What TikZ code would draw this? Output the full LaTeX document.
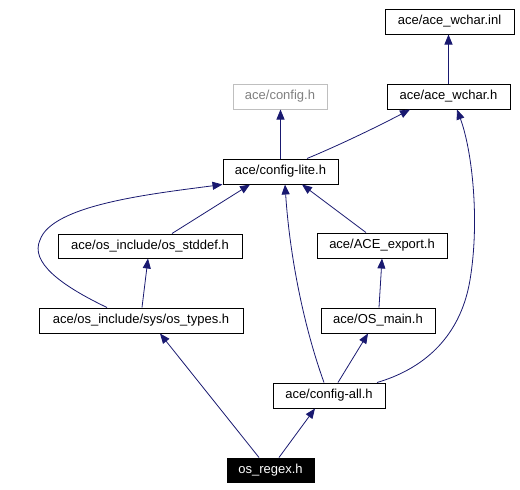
\documentclass[tikz,border=0pt]{standalone}
\usepackage{fontspec}
\setmainfont{Liberation Sans}
\usetikzlibrary{arrows.meta}
\definecolor{edgeblue}{HTML}{191970}
\definecolor{grayborder}{HTML}{BFBFBF}
\begin{document}
\begin{tikzpicture}[x=1pt,y=-1pt,
  box/.style={draw=black,line width=1pt,fill=white,inner sep=0pt,minimum height=25pt,font=\fontsize{13}{15}\selectfont},
  graybox/.style={box,draw=grayborder},
  rootbox/.style={box,fill=black,text=white},
  dep/.style={draw=edgeblue,line width=0.8pt,-{Triangle[length=10pt,width=8pt]},fill=none},
]
\useasboundingbox (0,0) rectangle (520,490);
\node[box,minimum width=129pt] (inl) at (449.5,21.5) {ace/ace\_wchar.inl};
\node[box,minimum width=123pt] (wchar) at (448.5,96.5) {ace/ace\_wchar.h};
\node[graybox,minimum width=94pt,text=gray] (config) at (280,96.5) {ace/config.h};
\node[box,minimum width=115pt] (lite) at (280.5,171.5) {ace/config-lite.h};
\node[box,minimum width=184pt,minimum height=24pt] (stddef) at (150,246) {ace/os\_include/os\_stddef.h};
\node[box,minimum width=130pt] (export) at (382,245.5) {ace/ACE\_export.h};
\node[box,minimum width=204pt] (types) at (141,320.5) {ace/os\_include/sys/os\_types.h};
\node[box,minimum width=114pt] (osmain) at (378,320.5) {ace/OS\_main.h};
\node[box,minimum width=112pt] (all) at (329,395.5) {ace/config-all.h};
\node[rootbox,minimum width=87pt,minimum height=24pt] (regex) at (270.5,470) {os\_regex.h};

\draw[dep] (wchar.north) -- (wchar.north |- inl.south);
\draw[dep] (lite.north) -- (lite.north |- config.south);
\draw[dep] ([xshift=26.5pt]lite.north) .. controls (335,147) and (375,128) .. ([xshift=-38.5pt]wchar.south);
\draw[dep] ([xshift=22pt]stddef.north) -- ([xshift=-30.5pt]lite.south);
\draw[dep] ([xshift=-34pt]types.north) .. controls (60,285) and (30,262) .. (40,240) .. controls (52,205) and (150,194) .. (lite.south west);
\draw[dep] ([xshift=1pt]types.north) -- ([xshift=-2pt]stddef.south);
\draw[dep] ([xshift=-16pt]export.north) -- ([xshift=21.5pt]lite.south);
\draw[dep] ([xshift=-5pt]all.north) .. controls (305,330) and (290,260) .. ([xshift=4.5pt]lite.south);
\draw[dep] ([xshift=9pt]all.north) -- ([xshift=-10pt]osmain.south);
\draw[dep] ([xshift=1pt]osmain.north) -- (export.south);
\draw[dep] ([xshift=48pt]all.north) .. controls (420,370) and (460,340) .. (470,280) .. controls (480,220) and (472,150) .. ([xshift=8.5pt]wchar.south);
\draw[dep] ([xshift=-11.5pt]regex.north) -- ([xshift=19pt]types.south);
\draw[dep] ([xshift=8.5pt]regex.north) -- ([xshift=-14pt]all.south);
\end{tikzpicture}
\end{document}
